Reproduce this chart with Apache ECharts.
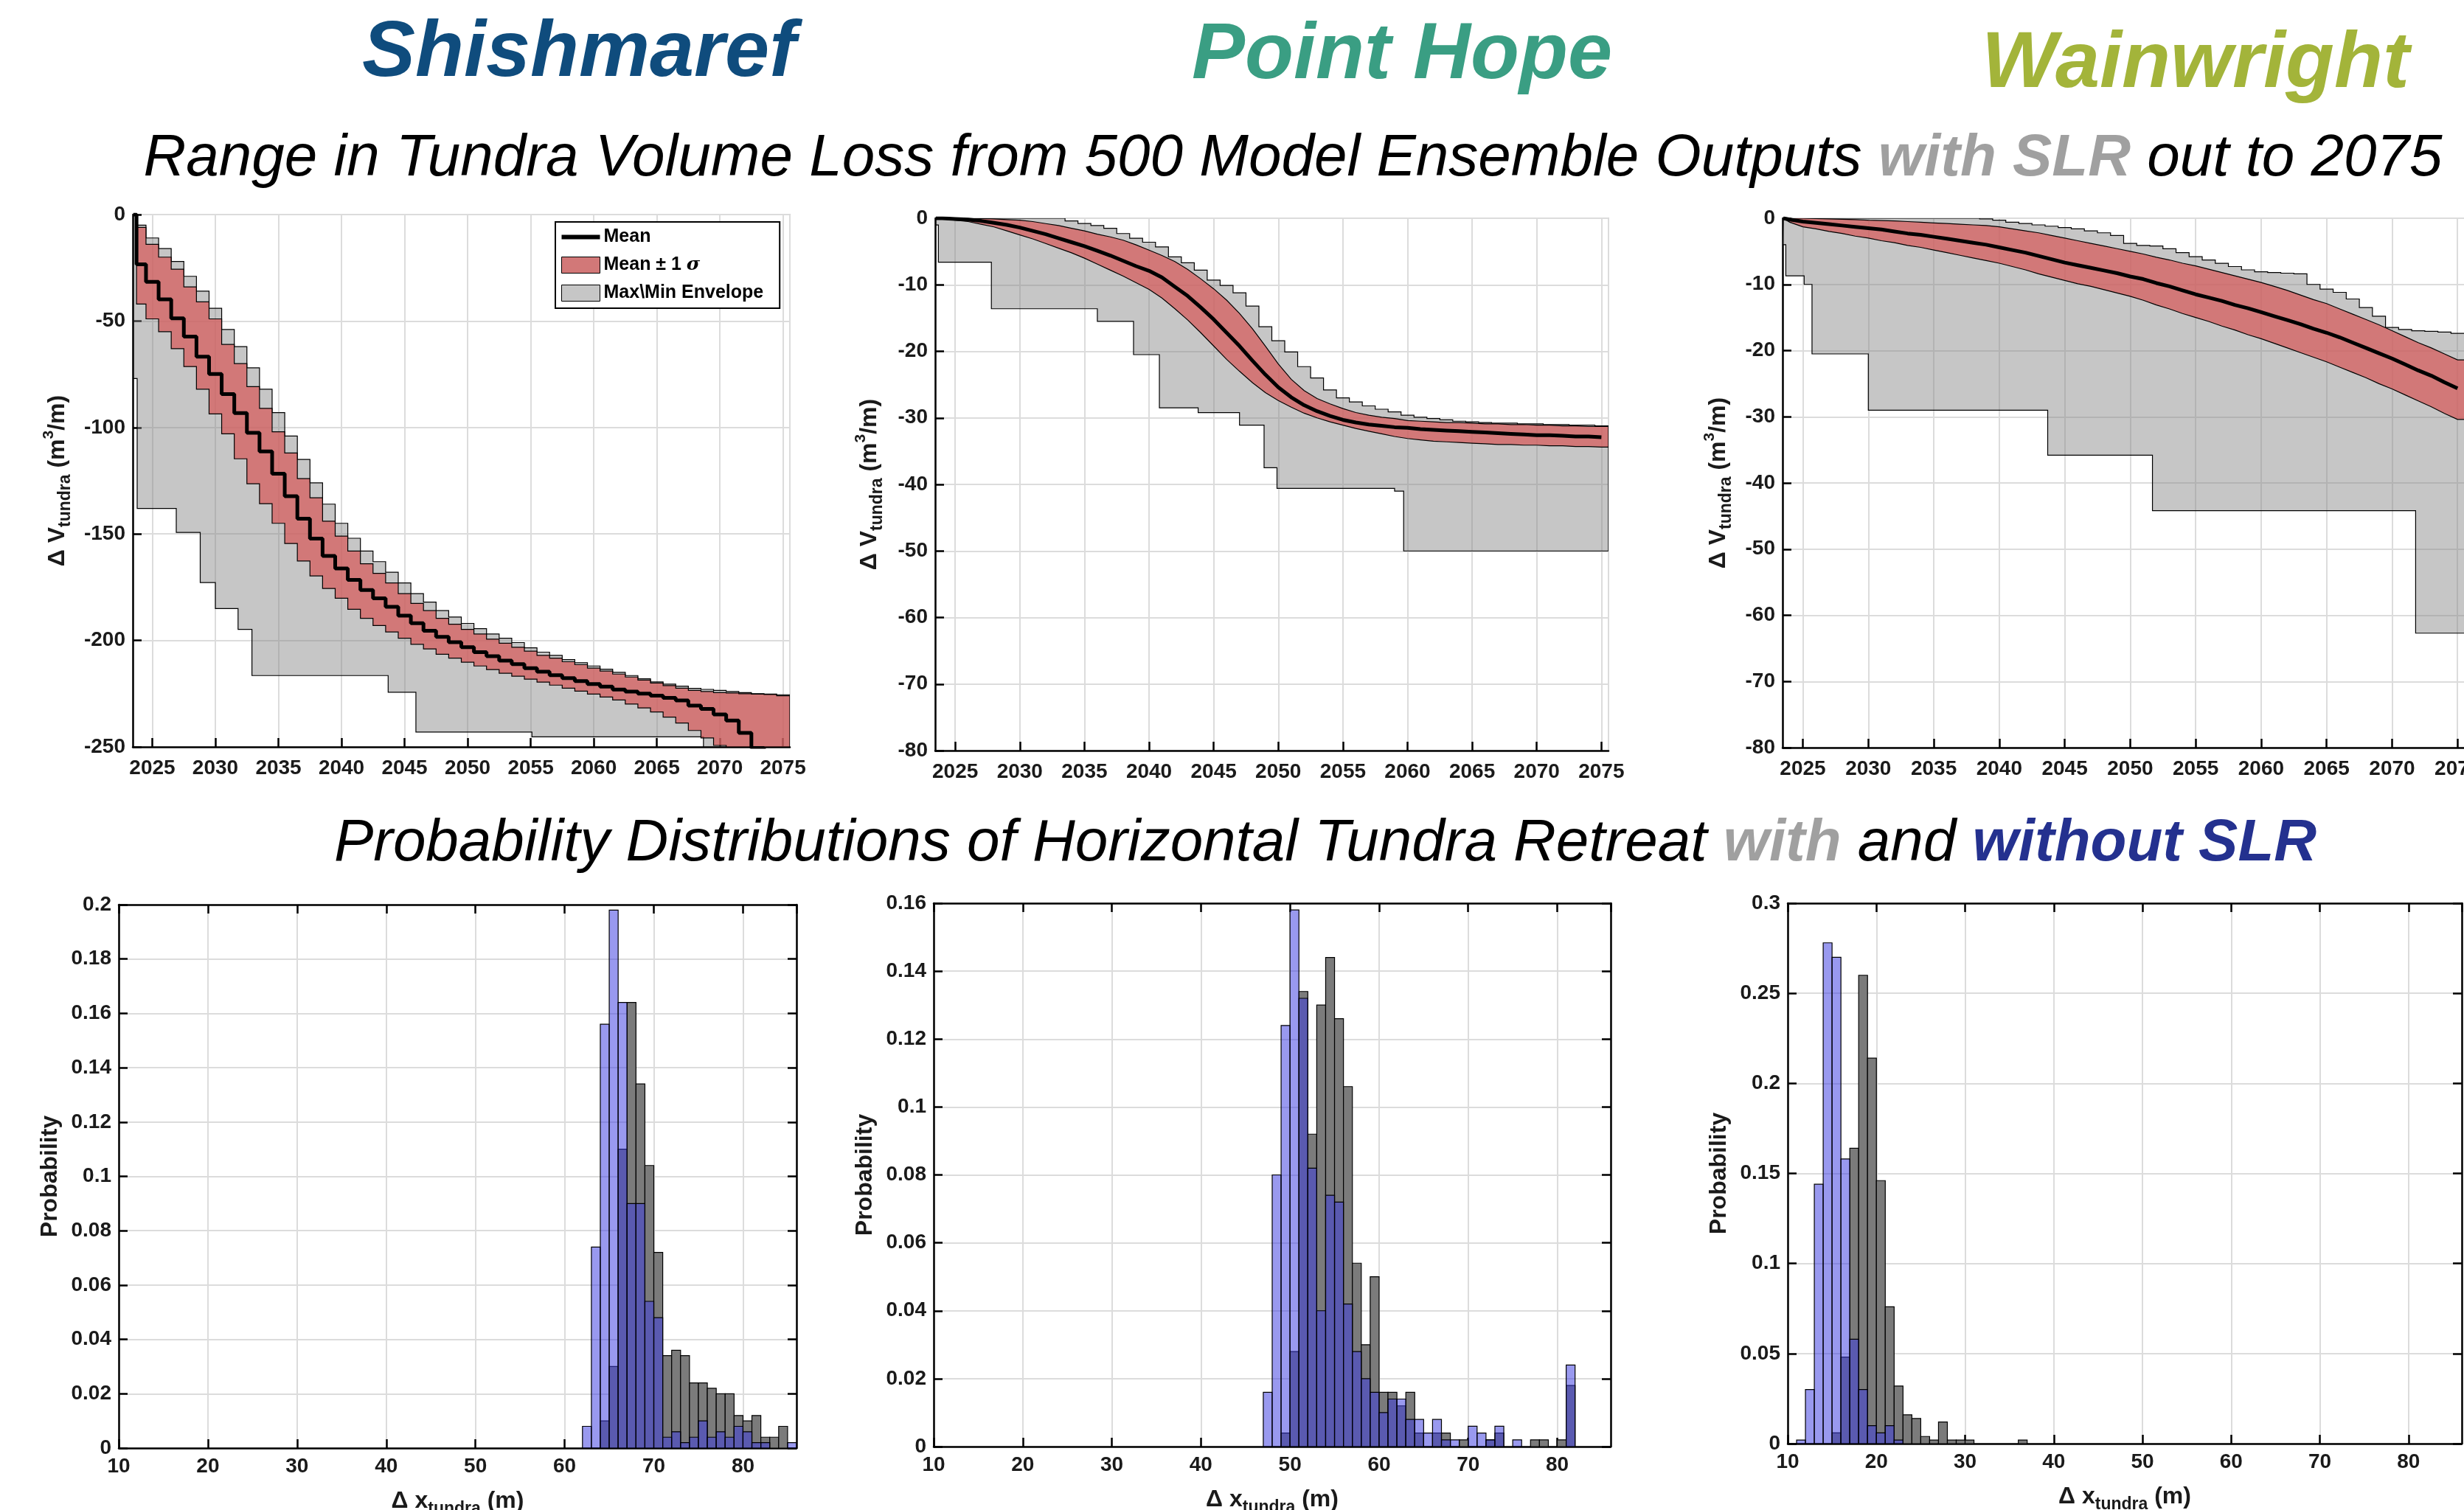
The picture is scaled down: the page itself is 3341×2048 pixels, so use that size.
<!DOCTYPE html>
<html>
<head>
<meta charset="utf-8">
<title>Tundra volume loss and retreat</title>
<script src="https://cdn.jsdelivr.net/npm/echarts@6.0.0/dist/echarts.min.js"></script>
<style>
  html, body { margin: 0; padding: 0; background: #fff; }
  #chart { width: 3341px; height: 2048px; }
</style>
</head>
<body>
<div id="chart"></div>
<script>
/**
 * Tundra volume loss (top) and retreat histograms (bottom) for three sites
 */
var FONT = 'Liberation Sans, Arial, Helvetica, sans-serif';
var X0 = 2023.45, X1 = 2075.55;
var BIN_W = 1;

function range(a, b) {
	var r = [];
	for (var i = a; i <= b; i++) {
		r.push(i);
	}
	return r;
}

// time axis of the ensemble curves (first point = start of run)
var years = [2023.5].concat(range(2024, 2075));

// ---- Shishmaref, volume loss (m3/m)
var shMean = [0, -23.4, -31.6, -39.8, -48.7, -57.3, -66.7, -74.9, -84.3, -93.2, -102.5, -111.2, -121.7, -132.3, -142.8, -152.2, -160.3, -166.2, -171.6, -176.3, -180.2, -184.2, -188.4, -191.9, -195.5, -198.3, -200.8, -203.2, -205.5, -207.4, -209.5, -211.1, -213, -214.7, -216.3, -217.7, -219.1, -220.5, -221.7, -223.1, -224, -225, -225.9, -227, -228.2, -230.6, -232.2, -234.8, -237.6, -243.4, -250.5, -256, -262];
var shSigHi = [0, -6, -14, -20, -25.7, -34, -41, -49, -61, -70, -80.8, -91, -102, -112, -124, -133, -144, -151, -158, -164, -168.5, -173, -178, -182.6, -186, -189.6, -192.4, -194.8, -197, -199.4, -201.3, -203.2, -205, -207, -208.3, -210, -211.4, -213, -214.4, -215.8, -217.2, -218.6, -220, -221.2, -222.4, -223.5, -224, -224.5, -224.7, -225, -225.2, -225.4, -226];
var shSigLo = [0, -42, -49, -55, -63, -71.4, -82, -93.6, -103, -114.7, -126.4, -135.8, -145, -154.5, -162.7, -169.7, -175.6, -180.2, -185.4, -189.6, -193, -196, -199, -201.8, -204, -206.5, -208.3, -210.2, -212, -213.7, -215.4, -216.8, -218.2, -219.6, -221, -222.4, -223.8, -225.2, -226.6, -228, -229.9, -231.7, -233.6, -236, -238.8, -242.3, -245.8, -249.3, -255, -260, -265, -270, -275];
var shMax = [0, -5, -11, -16, -22, -29, -36, -44, -54, -62, -72, -82, -93, -104, -115, -126, -136, -145, -152, -158, -163, -168, -173, -178, -182, -186, -189, -192, -194.5, -197, -199, -201, -203.5, -205.5, -207, -209, -210.5, -212, -213.5, -215, -216.5, -218, -219.5, -220.5, -221.5, -222.5, -223, -223.5, -224, -224.5, -225, -225.2, -225.5];
var shMinX = [2023.5, 2023.8, 2026.9, 2028.8, 2030, 2031.8, 2032.9, 2043.7, 2045.9, 2055.1, 2068.7];
var shMinV = [-77, -138, -149.3, -172.8, -185, -194.8, -216.5, -224.3, -243, -245.3, -262];

// ---- Point Hope
var phMean = [0, 0, -0.1, -0.2, -0.4, -0.7, -1, -1.4, -1.9, -2.4, -3, -3.6, -4.2, -4.9, -5.6, -6.4, -7.2, -7.9, -8.9, -10.3, -11.7, -13.4, -15.2, -17.2, -19.2, -21.4, -23.5, -25.4, -26.9, -28.1, -29, -29.7, -30.3, -30.7, -31, -31.2, -31.4, -31.5, -31.7, -31.8, -31.9, -32, -32.1, -32.2, -32.3, -32.4, -32.5, -32.6, -32.6, -32.7, -32.8, -32.8, -32.9];
var phSigHi = [0, 0, 0, 0, -0.05, -0.1, -0.2, -0.3, -0.5, -0.8, -1.1, -1.5, -1.9, -2.4, -2.8, -3.3, -4, -4.8, -5.6, -6.5, -7.7, -9.1, -10.6, -12.3, -14.3, -16.6, -19.2, -21.9, -24.2, -25.9, -27.1, -27.9, -28.6, -29.2, -29.6, -29.9, -30.1, -30.4, -30.5, -30.6, -30.7, -30.7, -30.8, -30.9, -30.9, -31, -31, -31.1, -31.1, -31.2, -31.2, -31.3, -31.3];
var phSigLo = [0, -0.1, -0.3, -0.5, -0.9, -1.3, -1.9, -2.5, -3.1, -3.8, -4.5, -5.2, -6, -6.9, -7.8, -8.7, -9.7, -10.7, -12, -13.6, -15.3, -17.2, -19.2, -21.2, -23, -24.7, -26.2, -27.4, -28.4, -29.3, -30, -30.6, -31.1, -31.6, -32, -32.4, -32.8, -33.1, -33.3, -33.5, -33.6, -33.7, -33.8, -33.9, -34, -34, -34.1, -34.1, -34.2, -34.2, -34.3, -34.3, -34.4];
var phMax = [0, 0, 0, 0, 0, 0, 0, 0, 0, 0, 0, -0.4, -0.8, -1.1, -1.5, -2.3, -3, -3.6, -4.3, -5.8, -6.7, -7.8, -9.3, -10.1, -11.2, -13.2, -16.3, -18.4, -20.1, -22.3, -24, -25.8, -27, -27.6, -28.2, -28.7, -29.1, -29.6, -29.9, -30.1, -30.3, -30.5, -30.6, -30.7, -30.8, -30.8, -30.9, -30.9, -31, -31, -31.1, -31.1, -31.2];
var phMinX = [2023.5, 2023.7, 2027.8, 2036, 2038.8, 2040.8, 2043.8, 2047, 2048.9, 2049.9, 2059, 2059.7];
var phMinV = [-1, -6.6, -13.6, -15.5, -20.5, -28.5, -29.2, -31.1, -37.5, -40.6, -41, -50];

// ---- Wainwright
var wMean = [0, -0.2, -0.5, -0.7, -0.9, -1.1, -1.3, -1.5, -1.7, -2, -2.3, -2.5, -2.8, -3.1, -3.4, -3.7, -4, -4.4, -4.8, -5.2, -5.7, -6.2, -6.7, -7.1, -7.5, -7.9, -8.3, -8.8, -9.2, -9.8, -10.3, -10.9, -11.5, -12, -12.5, -13.1, -13.6, -14.2, -14.8, -15.4, -16, -16.7, -17.3, -18, -18.8, -19.6, -20.4, -21.2, -22.1, -23, -23.8, -24.8, -25.7];
var wSigHi = [0, 0, 0, -0.05, -0.1, -0.15, -0.2, -0.3, -0.35, -0.4, -0.5, -0.6, -0.7, -0.8, -0.9, -1, -1.1, -1.3, -1.6, -1.9, -2.2, -2.6, -3, -3.4, -3.8, -4.2, -4.6, -5, -5.4, -5.9, -6.3, -6.8, -7.2, -7.7, -8.2, -8.7, -9.2, -9.7, -10.3, -10.9, -11.6, -12.3, -12.9, -13.7, -14.5, -15.3, -16.1, -17, -17.9, -18.8, -19.6, -20.5, -21.4];
var wSigLo = [0, -0.6, -1.3, -1.6, -2, -2.3, -2.7, -3, -3.4, -3.7, -4.1, -4.4, -4.8, -5.2, -5.6, -6, -6.4, -6.8, -7.3, -7.8, -8.4, -8.9, -9.4, -9.9, -10.3, -10.8, -11.3, -11.8, -12.4, -13.1, -13.7, -14.4, -15, -15.6, -16.3, -16.9, -17.6, -18.2, -18.9, -19.6, -20.3, -21, -21.7, -22.5, -23.3, -24.1, -25, -25.8, -26.7, -27.6, -28.5, -29.5, -30.4];
var wMax = [0, 0, 0, 0, 0, 0, 0, 0, 0, 0, 0, 0, 0, 0, 0, 0, -0.1, -0.3, -0.6, -0.8, -1, -1.2, -1.4, -1.6, -1.9, -2.2, -2.6, -3.8, -4.1, -4.2, -4.6, -5.2, -5.8, -6.3, -6.8, -7.3, -7.8, -8.1, -8.2, -8.3, -8.4, -10, -10.7, -11.2, -12.2, -13.5, -14.8, -16.5, -16.8, -17, -17.1, -17.2, -17.4];
var wMinX = [2023.4, 2023.7, 2025.1, 2025.7, 2030, 2043.7, 2051.7, 2071.8];
var wMinV = [-4, -8.7, -10, -20.5, -29, -35.8, -44.2, -62.7];

// ---- retreat histograms (probability per 1 m bin), with / without SLR
var shBins = range(62, 85);
var shWith = [0, 0, 0.01, 0.03, 0.11, 0.164, 0.134, 0.104, 0.072, 0.034, 0.036, 0.034, 0.024, 0.024, 0.022, 0.02, 0.02, 0.012, 0.01, 0.012, 0.004, 0.004, 0.008, 0];
var shWithout = [0.008, 0.074, 0.156, 0.198, 0.164, 0.09, 0.09, 0.054, 0.048, 0.004, 0.006, 0.002, 0.004, 0.01, 0.004, 0.006, 0.004, 0.008, 0.006, 0.002, 0.002, 0, 0, 0.002];

var phBins = range(47, 81);
var phWith = [0, 0, 0.004, 0.028, 0.134, 0.092, 0.13, 0.144, 0.126, 0.106, 0.054, 0.03, 0.05, 0.016, 0.016, 0.012, 0.016, 0.004, 0, 0.004, 0.004, 0, 0.002, 0, 0, 0.002, 0.004, 0, 0, 0, 0.002, 0.002, 0, 0.002, 0.018];
var phWithout = [0.016, 0.08, 0.124, 0.158, 0.132, 0.082, 0.04, 0.074, 0.072, 0.042, 0.028, 0.02, 0.016, 0.01, 0.014, 0.014, 0.008, 0.008, 0.004, 0.008, 0.002, 0.002, 0, 0.006, 0.004, 0.002, 0.006, 0, 0.002, 0, 0, 0, 0, 0, 0.024];

var wBins = range(11, 36);
var wWith = [0, 0, 0, 0, 0.006, 0.048, 0.164, 0.26, 0.214, 0.146, 0.076, 0.032, 0.016, 0.014, 0.004, 0.002, 0.012, 0.002, 0.002, 0.002, 0, 0, 0, 0, 0, 0.002];
var wWithout = [0.002, 0.03, 0.144, 0.278, 0.27, 0.158, 0.058, 0.03, 0.01, 0.006, 0.01, 0.002, 0, 0, 0, 0, 0, 0, 0, 0, 0, 0, 0, 0, 0, 0];

var MEAN = 'Mean', SIG = 'Mean ± 1 σ', ENV = 'Max\\Min Envelope';
var ENV_FILL = 'rgba(128,128,128,0.45)', SIG_FILL = 'rgba(215,90,90,0.72)';

// outline builders (in data units)
function stepPts(xs, vs) {
	var pts = [[xs[0], vs[0]]];
	for (var i = 1; i < xs.length; i++) {
		var m = (xs[i - 1] + xs[i]) / 2;
		pts.push([m, vs[i - 1]], [m, vs[i]]);
	}
	pts.push([xs[xs.length - 1], vs[vs.length - 1]], [X1, vs[vs.length - 1]]);
	return pts;
}
function linePts(xs, vs) {
	var pts = xs.map(function (x, i) { return [x, vs[i]]; });
	pts.push([X1, vs[vs.length - 1]]);
	return pts;
}
function holdPts(xs, vs) {
	var pts = [];
	for (var i = 0; i < xs.length; i++) {
		pts.push([xs[i], vs[i]], [i + 1 < xs.length ? xs[i + 1] : X1, vs[i]]);
	}
	return pts;
}

function bandSeries(name, idx, upper, lower, fill) {
	var outline = upper.concat(lower.slice().reverse());
	return {
		type: 'custom', name: name, xAxisIndex: idx, yAxisIndex: idx,
		clip: true, silent: true,
		itemStyle: { color: fill, borderColor: '#000', borderWidth: 1 },
		data: [[2050, 0]],
		renderItem: function (params, api) {
			var cs = params.coordSys;
			var pts = outline.map(function (d) {
				var c = api.coord(d);
				return [Math.max(cs.x, Math.min(cs.x + cs.width, c[0])),
					Math.max(cs.y, Math.min(cs.y + cs.height, c[1]))];
			});
			return { type: 'polygon', shape: { points: pts }, style: { fill: fill, stroke: '#000', lineWidth: 1.2 } };
		}
	};
}

function meanSeries(idx, vs, step) {
	return {
		type: 'line', name: MEAN, xAxisIndex: idx, yAxisIndex: idx,
		data: years.map(function (x, i) { return [x, vs[i]]; }),
		step: step || false, symbol: 'none', showSymbol: false, silent: true,
		lineStyle: { color: '#000', width: 5 }, itemStyle: { color: '#000' }
	};
}

function histSeries(name, idx, bins, vs, fill) {
	return {
		type: 'custom', name: name, xAxisIndex: idx, yAxisIndex: idx, silent: true,
		data: bins.map(function (b, i) { return [b, vs[i]]; }),
		renderItem: function (params, api) {
			var v = api.value(1);
			if (!v) {
				return null;
			}
			var x = api.value(0);
			var p0 = api.coord([x, v]);
			var p1 = api.coord([x + BIN_W, 0]);
			return {
				type: 'rect',
				shape: { x: p0[0], y: p0[1], width: p1[0] - p0[0], height: p1[1] - p0[1] },
				style: { fill: fill, stroke: '#000', lineWidth: 1.2 }
			};
		}
	};
}

function axisCfg(gi, position, min, max, interval, margin) {
	var a = {
		type: 'value', gridIndex: gi, position: position, min: min, max: max,
		nameMoveOverlap: false,
		axisLine: { show: true, onZero: false, lineStyle: { color: '#000', width: 2.5 } },
		axisTick: { show: true, inside: true, length: 12, lineStyle: { color: '#000', width: 2.5 } },
		axisLabel: { show: true, color: '#1a1a1a', fontFamily: FONT, fontSize: 28, fontWeight: 'bold', margin: margin },
		splitLine: { show: true, lineStyle: { color: '#dcdcdc', width: 2 } }
	};
	if (interval) {
		a.interval = interval;
	}
	return a;
}

function yearAxis(gi) {
	var a = axisCfg(gi, 'bottom', X0, X1, null, 15);
	a.splitNumber = 10;
	a.minInterval = 5;
	a.maxInterval = 5;
	a.axisLabel.showMinLabel = false;
	a.axisLabel.showMaxLabel = false;
	a.axisLabel.formatter = function (v) {
		return String(Math.round(v));
	};
	return a;
}

var NAME_RICH = {
	a: { fontFamily: FONT, fontWeight: 'bold', fontSize: 32, lineHeight: 44, color: '#1a1a1a' },
	b: { fontFamily: FONT, fontWeight: 'bold', fontSize: 23, lineHeight: 22, verticalAlign: 'bottom', color: '#1a1a1a' },
	c: { fontFamily: FONT, fontWeight: 'bold', fontSize: 21, lineHeight: 20, verticalAlign: 'top', color: '#1a1a1a' }
};

function volAxis(gi, min, interval, gap) {
	var a = axisCfg(gi, 'left', min, 0, interval, 10);
	a.name = '{a|Δ V}{b|tundra}{a| (m}{c|3}{a|/m)}';
	a.nameLocation = 'middle';
	a.nameRotate = 90;
	a.nameGap = gap;
	a.nameTextStyle = { color: '#1a1a1a', fontFamily: FONT, fontWeight: 'bold', fontSize: 32, rich: NAME_RICH };
	return a;
}

function retreatAxis(gi) {
	var a = axisCfg(gi, 'bottom', 10, 86, 10, 11);
	a.axisLabel.showMaxLabel = false;
	a.name = '{a|Δ x}{b|tundra}{a| (m)}';
	a.nameLocation = 'middle';
	a.nameGap = 50;
	a.nameTextStyle = { color: '#1a1a1a', fontFamily: FONT, fontWeight: 'bold', fontSize: 32, rich: NAME_RICH };
	return a;
}

function probAxis(gi, max, interval) {
	var a = axisCfg(gi, 'left', 0, max, interval, 10);
	a.name = 'Probability';
	a.nameLocation = 'middle';
	a.nameRotate = 90;
	a.nameGap = 74;
	a.nameTextStyle = { color: '#1a1a1a', fontFamily: FONT, fontWeight: 'bold', fontSize: 32, lineHeight: 38 };
	return a;
}

function mirrorAxis(gi, position, min, max, interval) {
	var a = axisCfg(gi, position, min, max, interval, 10);
	a.axisLabel.show = false;
	a.splitLine.show = false;
	return a;
}

var chart = echarts.init(document.getElementById('chart'), null, { renderer: 'canvas' });

var option = {
	backgroundColor: '#fff',
	animation: false,
	textStyle: { fontFamily: FONT },
	grid: [
		{ left: 180, top: 291, width: 891, height: 722, show: true, borderColor: '#d4d4d4', borderWidth: 2, outerBoundsMode: 'none' },
		{ left: 1268, top: 296, width: 913, height: 722, show: true, borderColor: '#d4d4d4', borderWidth: 2, outerBoundsMode: 'none' },
		{ left: 2417, top: 296, width: 925, height: 718, show: true, borderColor: '#d4d4d4', borderWidth: 2, outerBoundsMode: 'none' },
		{ left: 161, top: 1227, width: 919, height: 737, outerBoundsMode: 'none' },
		{ left: 1266, top: 1225, width: 918, height: 737, outerBoundsMode: 'none' },
		{ left: 2424, top: 1225, width: 914, height: 733, outerBoundsMode: 'none' }
	],
	xAxis: [
		yearAxis(0), yearAxis(1), yearAxis(2),
		retreatAxis(3), retreatAxis(4), retreatAxis(5),
		mirrorAxis(3, 'top', 10, 86, 10), mirrorAxis(4, 'top', 10, 86, 10), mirrorAxis(5, 'top', 10, 86, 10)
	],
	yAxis: [
		volAxis(0, -250, 50, 80), volAxis(1, -80, 10, 67), volAxis(2, -80, 10, 65),
		probAxis(3, 0.2, 0.02), probAxis(4, 0.16, 0.02), probAxis(5, 0.3, 0.05),
		mirrorAxis(3, 'right', 0, 0.2, 0.02), mirrorAxis(4, 'right', 0, 0.16, 0.02), mirrorAxis(5, 'right', 0, 0.3, 0.05)
	],
	legend: {
		show: true,
		orient: 'vertical',
		left: 753,
		top: 301,
		padding: [8, 22, 8, 8],
		itemGap: 13,
		itemWidth: 52,
		itemHeight: 22,
		selectedMode: false,
		backgroundColor: '#fff',
		borderColor: '#000',
		borderWidth: 2,
		textStyle: {
			color: '#000', fontFamily: FONT, fontSize: 25, fontWeight: 'bold',
			rich: {
				t: { color: '#000', fontFamily: FONT, fontSize: 25, fontWeight: 'bold' },
				s: { color: '#000', fontFamily: 'DejaVu Serif', fontSize: 25, fontStyle: 'italic' }
			}
		},
		formatter: function (name) {
			if (name === SIG) {
				return '{t|Mean ± 1 }{s|σ}';
			}
			return name;
		},
		data: [
			{ name: MEAN, icon: 'path://M0,0 L52,0 L52,6 L0,6 Z', itemStyle: { color: '#000', borderWidth: 0 } },
			{ name: SIG, icon: 'rect', itemStyle: { color: '#d27878', borderColor: '#000', borderWidth: 1 } },
			{ name: ENV, icon: 'rect', itemStyle: { color: '#c6c6c6', borderColor: '#000', borderWidth: 1 } }
		]
	},
	graphic: [
		{ type: 'text', x: 785, y: 73, style: { text: 'Shishmaref', fill: '#0f4c7d', font: 'italic bold 108px ' + FONT, align: 'center', verticalAlign: 'middle', textAlign: 'center', textVerticalAlign: 'middle' } },
		{ type: 'text', x: 1901, y: 76, style: { text: 'Point Hope', fill: '#3a9e83', font: 'italic bold 108px ' + FONT, align: 'center', verticalAlign: 'middle', textAlign: 'center', textVerticalAlign: 'middle' } },
		{ type: 'text', x: 2977, y: 88, style: { text: 'Wainwright', fill: '#a3b43a', font: 'italic bold 108px ' + FONT, align: 'center', verticalAlign: 'middle', textAlign: 'center', textVerticalAlign: 'middle' } },
		{
			type: 'text', x: 1753, y: 216,
			style: {
				text: '{n|Range in Tundra Volume Loss from 500 Model Ensemble Outputs }{g|with SLR}{n| out to 2075}',
				align: 'center', verticalAlign: 'middle', textAlign: 'center', textVerticalAlign: 'middle',
				rich: {
					n: { fill: '#000', color: '#000', fontFamily: FONT, fontSize: 80, fontStyle: 'italic' },
					g: { fill: '#a0a0a0', color: '#a0a0a0', fontFamily: FONT, fontSize: 80, fontStyle: 'italic', fontWeight: 'bold' }
				}
			}
		},
		{
			type: 'text', x: 1797, y: 1145,
			style: {
				text: '{n|Probability Distributions of Horizontal Tundra Retreat }{g|with}{n| and }{b|without SLR}',
				align: 'center', verticalAlign: 'middle', textAlign: 'center', textVerticalAlign: 'middle',
				rich: {
					n: { fill: '#000', color: '#000', fontFamily: FONT, fontSize: 80, fontStyle: 'italic' },
					g: { fill: '#a0a0a0', color: '#a0a0a0', fontFamily: FONT, fontSize: 80, fontStyle: 'italic', fontWeight: 'bold' },
					b: { fill: '#24318f', color: '#24318f', fontFamily: FONT, fontSize: 80, fontStyle: 'italic', fontWeight: 'bold' }
				}
			}
		}
	],
	series: [
		bandSeries(ENV, 0, stepPts(years, shMax), holdPts(shMinX, shMinV), ENV_FILL),
		bandSeries(SIG, 0, stepPts(years, shSigHi), stepPts(years, shSigLo), SIG_FILL),
		meanSeries(0, shMean, 'middle'),

		bandSeries(ENV, 1, stepPts(years, phMax), holdPts(phMinX, phMinV), ENV_FILL),
		bandSeries(SIG, 1, linePts(years, phSigHi), linePts(years, phSigLo), SIG_FILL),
		meanSeries(1, phMean),

		bandSeries(ENV, 2, stepPts(years, wMax), holdPts(wMinX, wMinV), ENV_FILL),
		bandSeries(SIG, 2, linePts(years, wSigHi), linePts(years, wSigLo), SIG_FILL),
		meanSeries(2, wMean),

		histSeries('with SLR', 3, shBins, shWith, '#7b7b7b'),
		histSeries('without SLR', 3, shBins, shWithout, 'rgba(60,60,225,0.52)'),
		histSeries('with SLR', 4, phBins, phWith, '#7b7b7b'),
		histSeries('without SLR', 4, phBins, phWithout, 'rgba(60,60,225,0.52)'),
		histSeries('with SLR', 5, wBins, wWith, '#7b7b7b'),
		histSeries('without SLR', 5, wBins, wWithout, 'rgba(60,60,225,0.52)')
	]
};

chart.setOption(option);
</script>
</body>
</html>
